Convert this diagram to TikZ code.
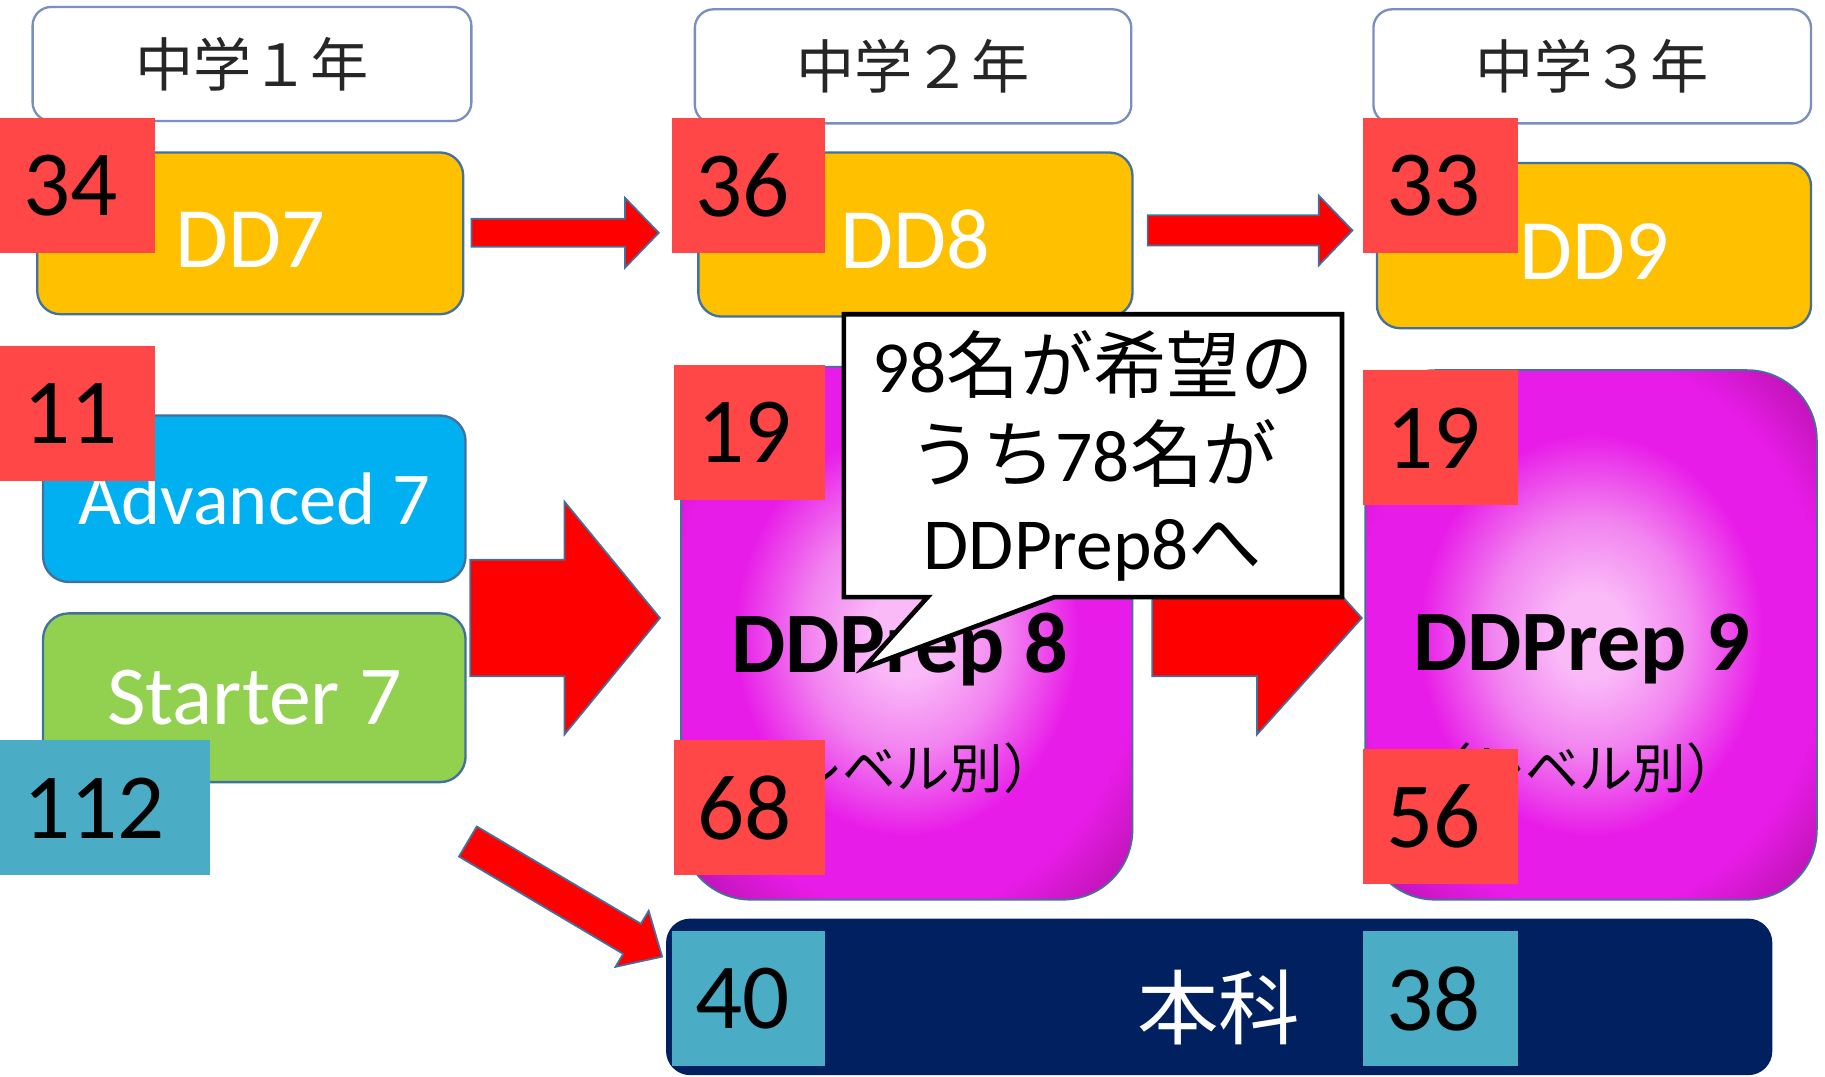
\documentclass[tikz,border=0pt]{standalone}
\usepackage{fontspec}
\setmainfont{Carlito}
\newfontfamily\cjk{Noto Sans CJK JP}
\usetikzlibrary{calc}
\definecolor{yearedge}{HTML}{7A8FBE}
\definecolor{boxedge}{HTML}{41719C}
\definecolor{ddorange}{HTML}{FFC000}
\definecolor{advcyan}{HTML}{00B0F0}
\definecolor{stgreen}{HTML}{92D050}
\definecolor{labred}{HTML}{FF4747}
\definecolor{labteal}{HTML}{4BACC6}
\definecolor{navy}{HTML}{002060}
\definecolor{arrowred}{HTML}{FF0000}
\definecolor{textgray}{HTML}{262626}
\definecolor{pinkc}{HTML}{FABAF8}
\definecolor{pinkm}{HTML}{F283F0}
\definecolor{magc}{HTML}{E81CE8}
\definecolor{darkc}{HTML}{AE10A0}
\pgfdeclareradialshading{prepshade}{\pgfpoint{0bp}{0bp}}{color(0bp)=(pinkc); color(4bp)=(pinkc); color(11bp)=(pinkm); color(19bp)=(magc); color(26bp)=(magc); color(36bp)=(darkc); color(50bp)=(darkc)}
\begin{document}
\begin{tikzpicture}[x=1pt,y=-1pt,
  yearbox/.style={draw=yearedge, line width=2, fill=white, rounded corners=16, minimum height=98, inner sep=0, font={\cjk\fontsize{50}{50}\selectfont}, text=textgray},
  ddbox/.style={draw=boxedge, line width=2, fill=ddorange, rounded corners=20, minimum width=373, minimum height=141, inner sep=0, text=white, font={\fontsize{74}{74}\selectfont}, text height=58pt, text depth=0pt},
  lvbox/.style={draw=boxedge, line width=2, rounded corners=22, minimum width=363, minimum height=143, inner sep=0, text=white},
  prep/.style={draw=boxedge, line width=1.5, shade, shading=prepshade, rounded corners=60, minimum width=388, inner sep=0},
  preptext/.style={inner sep=0, font={\bfseries\fontsize{74}{74}\selectfont}, text=black},
  lvtext/.style={inner sep=0, font={\cjk\fontsize{46}{46}\selectfont}, text=black},
  honka/.style={draw=navy, line width=1.5, fill=navy, rounded corners=20, minimum width=949, minimum height=133, inner sep=0},
  numlab/.style={anchor=north west, inner xsep=20, inner ysep=0, text width=#1, minimum height=116, align=left, font={\fontsize{80}{80}\selectfont}, text=black},
  redlab/.style={numlab=#1, fill=labred},
  teallab/.style={numlab=#1, fill=labteal},
  arrowfill/.style={fill=arrowred, draw=boxedge, line width=1.5, line join=miter},
  callout/.style={draw=black, fill=white, line width=4, line join=miter},
  pics/blockarrow/.style n args={4}{code={
    \path[arrowfill] (0,-#2) -- ({#1-#4},-#2) -- ({#1-#4},-#3) -- (#1,0) -- ({#1-#4},#3) -- ({#1-#4},#2) -- (0,#2) -- cycle;}}
]
\useasboundingbox[fill=white] (0,0) rectangle (1568,925);

% year headers
\node[yearbox, minimum width=377] (y1) at (216.5,55) {中学１年};
\node[yearbox, minimum width=375] (y2) at (784.5,57) {中学２年};
\node[yearbox, minimum width=376] (y3) at (1368,57) {中学３年};

% DD boxes
\node[ddbox, minimum width=366, minimum height=139] (dd7) at (215,200.5) {DD7};
\node[ddbox] (dd8) at (786.5,201.5) {DD8};
\node[ddbox, minimum height=142] (dd9) at (1369.5,211) {DD9};

% thin arrows
\coordinate (a1) at (405,200);
\pic (arr1) at (a1) {blockarrow={161}{12}{30}{29}};
\coordinate (a2) at (986,198);
\pic (arr2) at (a2) {blockarrow={176}{13}{30}{29}};

% level boxes grade 1
\node[lvbox, fill=advcyan, font={\fontsize{64}{64}\selectfont}] (adv) at (218.5,428.5) {Advanced 7};
\node[lvbox, fill=stgreen, minimum height=145, font={\fontsize{72}{72}\selectfont}] (st) at (218.5,599.5) {Starter 7};

% big arrow and diagonal arrow
\coordinate (a3) at (404,531);
\pic (arr3) at (a3) {blockarrow={163}{50}{100}{82}};
\coordinate (a5) at (402,723);
\pic[rotate=-30.66] (arr5) at (a5) {blockarrow={194}{15}{28}{30}};

% DDPrep boxes
\node[prep, minimum height=458] (p8) at (779,544) {};
\node[preptext] (p8t) at (773,558) {DDPrep 8};
\node[lvtext] (p8l) at (770,660) {（レベル別）};
\node[prep, minimum height=455] (p9) at (1367,545.5) {};
\node[preptext] (p9t) at (1359,558) {DDPrep 9};
\node[lvtext] (p9l) at (1357,660) {（レベル別）};

\coordinate (a4) at (990,531);
\pic (arr4) at (a4) {blockarrow={180}{50}{100}{90}};

% honka
\node[honka] (hk) at (1047.5,856.5) {};
\node[inner sep=0, font={\cjk\fontsize{70}{70}\selectfont}, text=white] (hkt) at (1047,866) {本科};

% number labels
\node[redlab=93] (n34) at (0,101) {34};
\node[redlab=92] (n36) at (577,101) {36};
\node[redlab=93] (n33) at (1171,101) {33};
\node[redlab=93] (n11) at (0,297) {11};
\node[redlab=90] (n19a) at (579,313) {19};
\node[redlab=93] (n19b) at (1171,318) {19};
\node[redlab=90] (n68) at (579,636) {68};
\node[redlab=93] (n56) at (1171,643) {56};
\node[teallab=140] (n112) at (0,636) {112};
\node[teallab=92] (n40) at (577,800) {40};
\node[teallab=93] (n38) at (1171,800) {38};

% callout
\coordinate (cnw) at (725,270);
\coordinate (cse) at (1153,513);
\coordinate (ctip) at (742,574);
\draw[callout] (cnw) -- (cnw -| cse) -- (cse) -- (906,513) -- (ctip) -- (797,513) -- (cnw |- cse) -- cycle;
\node[inner sep=0, font={\fontsize{63}{76}\selectfont}, align=center, text=black] (ctext) at (939,392) {98{\cjk 名が希望の}\\{\cjk うち}78{\cjk 名が}\\DDPrep8{\cjk へ}};
\end{tikzpicture}
\end{document}
